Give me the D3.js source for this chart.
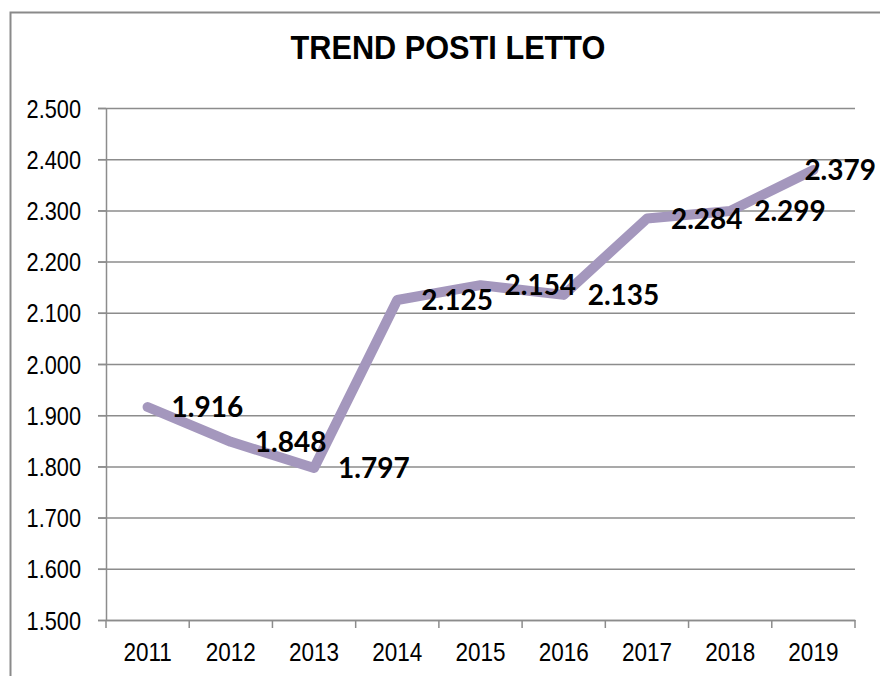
<!DOCTYPE html>
<html>
<head>
<meta charset="utf-8">
<script src="https://cdn.jsdelivr.net/npm/d3@7"></script>
<style>
  body { margin: 0; background: #fff; }
  svg { display: block; }
  .axis text { font-family: "Liberation Sans", Arial, sans-serif; font-size: 25px; fill: #000; }
</style>
</head>
<body>
<svg class="chart"></svg>
<script>
var years = ["2011", "2012", "2013", "2014", "2015", "2016", "2017", "2018", "2019"];
var beds = [1916, 1848, 1797, 2125, 2154, 2135, 2284, 2299, 2379];
var yTicks = [1500, 1600, 1700, 1800, 1900, 2000, 2100, 2200, 2300, 2400, 2500];
var title = "TREND POSTI LETTO";

var width = 880,
    height = 676;

var chart = d3.select(".chart")
    .attr("width", width)
    .attr("height", height);

// italian number format: 1.500
var it = d3.formatLocale({ decimal: ",", thousands: ".", grouping: [3], currency: ["€", ""] });
var fmt = it.format(",.0f");

// squeeze text horizontally (no narrow font installed)
function narrow(sel, k) {
    sel.each(function () {
        var w = this.getComputedTextLength();
        d3.select(this)
            .attr("textLength", w * k)
            .attr("lengthAdjust", "spacingAndGlyphs");
    });
}

// outer frame (cut off at right and bottom)
chart.append("rect")
    .attr("x", 10.5)
    .attr("y", 12.5)
    .attr("width", 900)
    .attr("height", 700)
    .style("fill", "none")
    .style("stroke", "#8a8a8a")
    .style("stroke-width", 2);

chart.append("text")
    .attr("x", 448)
    .attr("y", 59)
    .attr("text-anchor", "middle")
    .style("font-family", "'Liberation Sans', Arial, sans-serif")
    .style("font-weight", "bold")
    .style("font-size", "33px")
    .text(title)
    .call(narrow, 0.93);

var x = d3.scaleBand()
    .domain(years)
    .range([106, 855]);

var y = d3.scaleLinear()
    .domain([1500, 2500])
    .range([620, 108]);

// horizontal grid
var grid = d3.axisRight()
    .scale(y)
    .tickValues(yTicks)
    .tickFormat("")
    .tickSize(855 - 98);

chart.append("g")
    .attr("class", "grid")
    .attr("transform", "translate(98,0)")
    .call(grid)
    .call(g => g.select(".domain").remove())
    .call(g => g.selectAll("line").style("stroke", "#8c8c8c").style("stroke-width", 1.5));

// y axis
var yAxis = d3.axisLeft()
    .scale(y)
    .tickValues(yTicks)
    .tickFormat(fmt)
    .tickSize(8)
    .tickPadding(17)
    .tickSizeOuter(0);

chart.append("g")
    .attr("class", "axis yAxis")
    .attr("transform", "translate(106,0)")
    .call(yAxis)
    .call(g => g.selectAll("line, path").style("stroke", "#8c8c8c").style("stroke-width", 1.5))
    .call(g => g.selectAll("text").attr("dy", "0.36em").call(narrow, 0.87));

// x axis: labels in the middle of the bands, ticks on the band edges
var xAxis = d3.axisBottom()
    .scale(x)
    .tickSize(0)
    .tickPadding(23)
    .tickSizeOuter(0);

chart.append("g")
    .attr("class", "axis xAxis")
    .attr("transform", "translate(0,620)")
    .call(xAxis)
    .call(g => g.select(".domain").style("stroke", "#8c8c8c").style("stroke-width", 1.5))
    .call(g => g.selectAll("text").call(narrow, 0.9));

var edges = years.map(function (d) { return x(d); }).concat([x.range()[1]]);

chart.append("g")
    .selectAll("line")
    .data(edges)
    .enter()
    .append("line")
    .attr("x1", function (d) { return d; })
    .attr("x2", function (d) { return d; })
    .attr("y1", 620)
    .attr("y2", 628)
    .style("stroke", "#8c8c8c")
    .style("stroke-width", 1.5);

var data = years.map(function (d, i) { return { year: d, value: beds[i] }; });

var line = d3.line()
    .x(function (d) { return x(d.year) + x.bandwidth() / 2; })
    .y(function (d) { return y(d.value); });

chart.append("path")
    .datum(data)
    .attr("d", line)
    .style("fill", "none")
    .style("stroke", "#a497bd")
    .style("stroke-width", 10)
    .style("stroke-linecap", "round")
    .style("stroke-linejoin", "round");

var labels = chart.selectAll(".label")
    .data(data)
    .enter()
    .append("text")
    .attr("class", "label")
    .attr("x", function (d) { return x(d.year) + x.bandwidth() / 2 + 24; })
    .attr("y", function (d) { return y(d.value); })
    .attr("dy", "0.36em")
    .style("font-family", "Lato, 'Open Sans', sans-serif")
    .style("font-weight", "bold")
    .style("font-size", "28px")
    .style("fill", "#000")
    .text(function (d) { return fmt(d.value); });

// keep labels inside the picture, like the spreadsheet does
labels.each(function () {
    var w = this.getComputedTextLength(),
        lx = +d3.select(this).attr("x");
    if (lx + w > width - 4) d3.select(this).attr("x", width - 4 - w);
});
</script>
</body>
</html>
